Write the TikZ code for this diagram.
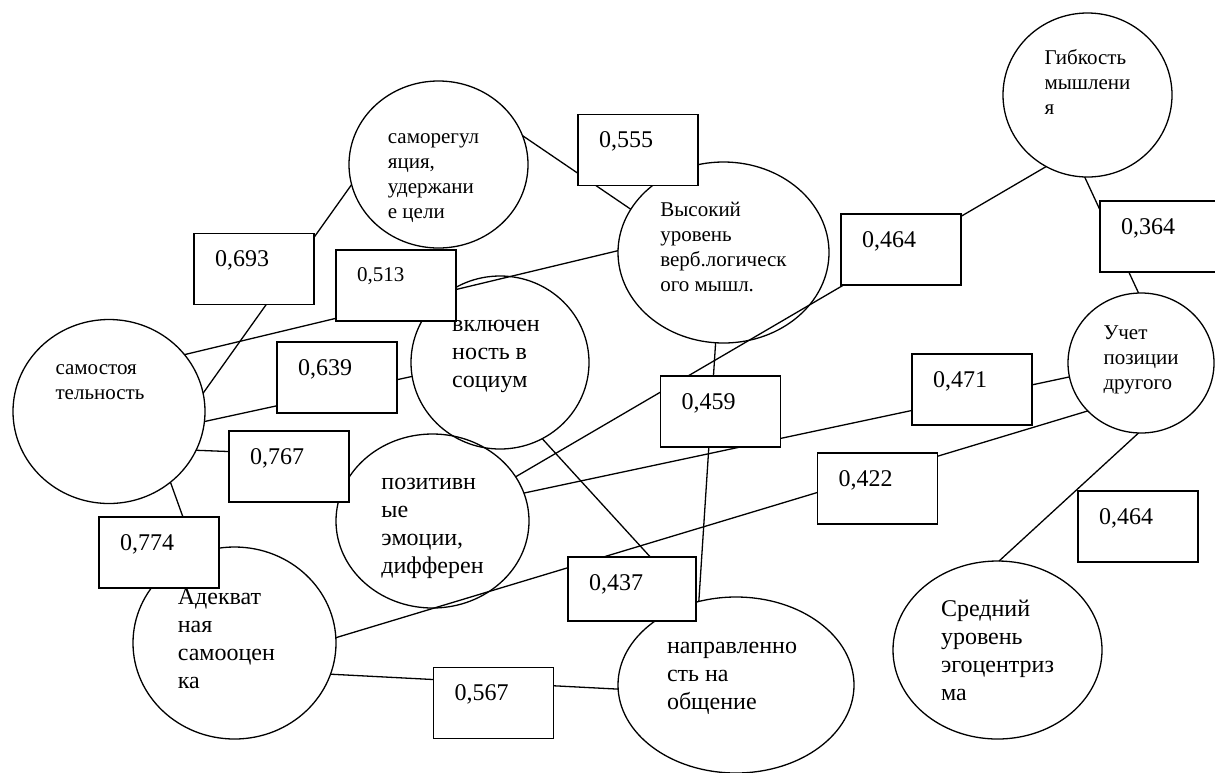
\documentclass[tikz,border=0pt]{standalone}
\usepackage{fontspec}
\setmainfont{Liberation Serif}
\usetikzlibrary{shapes.geometric,backgrounds}

\newcommand\bigfont{\fontsize{12}{14}\selectfont}
\newcommand\midfont{\fontsize{10.5}{12.5}\selectfont}

\begin{document}
\begin{tikzpicture}[x=0.5pt, y=-0.5pt,
  bubble/.style={draw, ellipse, line width=0.65pt, inner sep=0pt, outer sep=0pt,
    align=left, font=\bigfont, text height=0pt, text depth=0pt},
  numbox/.style={draw, fill=white, rectangle, line width=0.65pt, outer sep=0pt,
    inner xsep=10.5pt, inner ysep=0pt, text width=39pt, align=left,
    text height=16.5pt, text depth=19pt, font=\bigfont},
  link/.style={line width=0.65pt}]

  % Page: 1215 x 772 px, 1 px = 0.5pt, y runs downward
  \useasboundingbox (0,0) rectangle (1215,772);
  \clip (0,0) rectangle (1215,772);

  % Ellipses (centre in px; size in pt = px/2)
  % the text box sits on its last baseline: text height/depth move the lines
  \node[bubble, font=\midfont, minimum width=96pt, minimum height=92pt, text depth=12.5pt] (samost) at (109,411.5) {самостоя\\тельность\hspace*{9pt}};
  \node[bubble, font=\midfont, minimum width=89.5pt, minimum height=83.5pt, text height=53.5pt] (samoreg) at (438.5,164.5) {саморегул\hspace*{5pt}\\яция,\\удержани\\е цели};
  \node[bubble, font=\midfont, minimum width=105.5pt, minimum height=90.5pt, text height=38.5pt] (vysokiy) at (723.5,252.5) {Высокий\\уровень\\верб.логическ\\ого мышл.};
  \node[bubble, font=\midfont, minimum width=84.5pt, minimum height=82pt, text height=19pt] (gibkost) at (1087.5,95) {Гибкость\\мышлени\\я};
  \node[bubble, font=\midfont, minimum width=73pt, minimum height=70pt, text height=26pt] (uchet) at (1141,363) {Учет\\позиции\\другого};
  \node[bubble, minimum width=104.5pt, minimum height=89pt, text height=50pt] (sredniy) at (997.5,650) {Средний\\уровень\\эгоцентриз\\ма};
  \node[bubble, minimum width=101.5pt, minimum height=96pt, text height=45pt] (adekvat) at (234.5,643) {Адекват\hspace*{15pt}\\ная\\самооцен\\ка};
  \node[bubble, minimum width=96.5pt, minimum height=87pt, text height=52pt] (pozitiv) at (432.5,521) {позитивн\\ые\\эмоции,\\дифферен};
  \node[bubble, minimum width=89pt, minimum height=86.5pt, text height=24.5pt] (vklyuch) at (500,362.5) {включен\hspace*{4pt}\\ность в\\социум};
  \node[bubble, minimum width=118pt, minimum height=88pt, text height=24pt] (napravl) at (736,685) {направленно\hspace*{4pt}\\сть на\\общение};

  % Coefficient boxes (white, on top of the links)
  \node[numbox] (r693) at (254,269) {0,693};
  \node[numbox, font=\midfont, text height=15.5pt, text depth=20pt] (r513) at (396,285.5) {0,513};
  \node[numbox] (r639) at (337,377.5) {0,639};
  \node[numbox] (r767) at (289,466.5) {0,767};
  \node[numbox] (r774) at (159,552.5) {0,774};
  \node[numbox] (r555) at (638,150) {0,555};
  \node[numbox] (r464a) at (901,249.5) {0,464};
  \node[numbox] (r364) at (1160,236.5) {0,364};
  \node[numbox] (r459) at (720.5,411.5) {0,459};
  \node[numbox] (r471) at (972,389.5) {0,471};
  \node[numbox] (r422) at (877.5,488.5) {0,422};
  \node[numbox, text width=43pt, text depth=15.5pt] (r437) at (632,589) {0,437};
  \node[numbox] (r567) at (493.5,703) {0,567};
  \node[numbox] (r464b) at (1138,526.5) {0,464};

  % Links (behind the boxes)
  \begin{pgfonlayer}{background}
    \draw[link] (samost.11) -- (samoreg.193);
    \draw[link] (samost.37) -- (vysokiy.179);
    \draw[link] (samost.354) -- (vklyuch.189);
    \draw[link] (samost.336) -- (r767.166);
    \draw[link] (samost.311) -- (r774.56);
    \draw[link] (samoreg.19) -- (vysokiy.155);
    \draw[link] (pozitiv.28) -- (gibkost.240);
    \draw[link] (gibkost.268) -- (uchet.92);
    \draw[link] (vysokiy.265) -- (napravl.114);
    \draw[link] (pozitiv.17) -- (uchet.191);
    \draw[link] (adekvat.3) -- (uchet.222);
    \draw[link] (vklyuch.299) -- (napravl.118);
    \draw[link] (adekvat.342) -- (napravl.182);
    \draw[link] (uchet.268) -- (sredniy.89);
  \end{pgfonlayer}

\end{tikzpicture}
\end{document}
